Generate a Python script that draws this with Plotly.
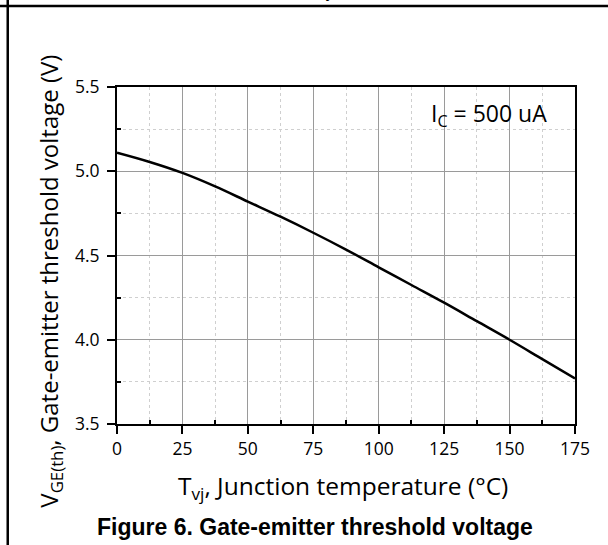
import plotly.graph_objects as go

# Data
temperature_c = [0, 12.5, 25, 37.5, 50, 62.5, 75, 87.5, 100, 112.5, 125, 137.5, 150, 162.5, 175]
vge_th_v = [5.11, 5.055, 4.99, 4.91, 4.82, 4.73, 4.635, 4.535, 4.43, 4.325, 4.22, 4.11, 4.0, 3.885, 3.77]
x_ticks = [0, 25, 50, 75, 100, 125, 150, 175]
y_ticks = [3.5, 4.0, 4.5, 5.0, 5.5]
x_minor = [12.5, 37.5, 62.5, 87.5, 112.5, 137.5, 162.5]
y_minor = [3.75, 4.25, 4.75, 5.25]

FONT = "Open Sans"

# plot area geometry (px)
W, H = 608, 545
L, R, T, B = 116.5, 32.5, 87, 121
PW, PH = W - L - R, H - T - B


def px(xp):
    return (xp - L) / PW


def py(yp):
    return (H - B - yp) / PH


fig = go.Figure()
fig.add_trace(go.Scatter(
    x=temperature_c, y=vge_th_v, mode="lines",
    line=dict(color="black", width=2.5, shape="spline"),
    showlegend=False, hoverinfo="skip",
))

axis_common = dict(
    showline=True, linecolor="black", linewidth=2, mirror=True,
    ticks="outside", ticklen=8, tickwidth=1.5, tickcolor="black",
    showgrid=True, gridcolor="#9a9a9a", gridwidth=1,
    zeroline=False,
    tickfont=dict(family=FONT, size=17.5, color="black"),
)
minor_common = dict(ticks="inside", ticklen=4, tickcolor="black", tickwidth=1.5,
                    showgrid=True, gridcolor="#cfcfcf", griddash="dot", gridwidth=1)

fig.update_xaxes(
    range=[0, 175], tickvals=x_ticks, ticktext=[str(v) for v in x_ticks],
    minor=dict(tickvals=x_minor, **minor_common),
    **axis_common,
)
fig.update_yaxes(
    range=[3.5, 5.5], tickvals=y_ticks, ticktext=[f"{v:.1f}" for v in y_ticks],
    minor=dict(tickvals=y_minor, **minor_common),
    ticklabelstandoff=4,
    **axis_common,
)

annotations = [
    dict(text="I<sub>C</sub> = 500 uA", x=px(549), y=py(114), xref="paper", yref="paper",
         xanchor="right", yanchor="middle", showarrow=False,
         font=dict(family=FONT, size=23, color="black")),
    dict(text="V<sub>GE(th)</sub>, Gate-emitter threshold voltage (V)",
         x=px(49), y=py(281), xref="paper", yref="paper", textangle=-90,
         xanchor="center", yanchor="middle", showarrow=False,
         font=dict(family=FONT, size=24, color="black")),
    dict(text="T<sub>vj</sub>, Junction temperature (°C)",
         x=px(342.5), y=py(487), xref="paper", yref="paper",
         xanchor="center", yanchor="middle", showarrow=False,
         font=dict(family=FONT, size=24.5, color="black")),
    dict(text="<b>Figure 6. Gate-emitter threshold voltage</b>",
         x=px(315), y=py(527), xref="paper", yref="paper",
         xanchor="center", yanchor="middle", showarrow=False,
         font=dict(family="Liberation Sans, Arial", size=23, color="black")),
    dict(text="(V<sub>CE</sub> = V<sub>GE</sub>, T<sub>vj</sub> = 25 °C)",
         x=px(308), y=py(4), xref="paper", yref="paper",
         xanchor="center", yanchor="bottom", showarrow=False,
         font=dict(family=FONT, size=22, color="black")),
]

shapes = [
    dict(type="line", xref="paper", yref="paper", x0=px(-5), x1=px(W + 5), y0=py(6), y1=py(6),
         line=dict(color="black", width=2.5)),
    dict(type="line", xref="paper", yref="paper", x0=px(7), x1=px(7), y0=py(-5), y1=py(H + 5),
         line=dict(color="black", width=2.5)),
]

fig.update_layout(
    width=W, height=H,
    margin=dict(l=L, r=R, t=T, b=B, pad=0),
    paper_bgcolor="white", plot_bgcolor="white",
    annotations=annotations, shapes=shapes,
    showlegend=False,
)

fig.write_html("out.html")
